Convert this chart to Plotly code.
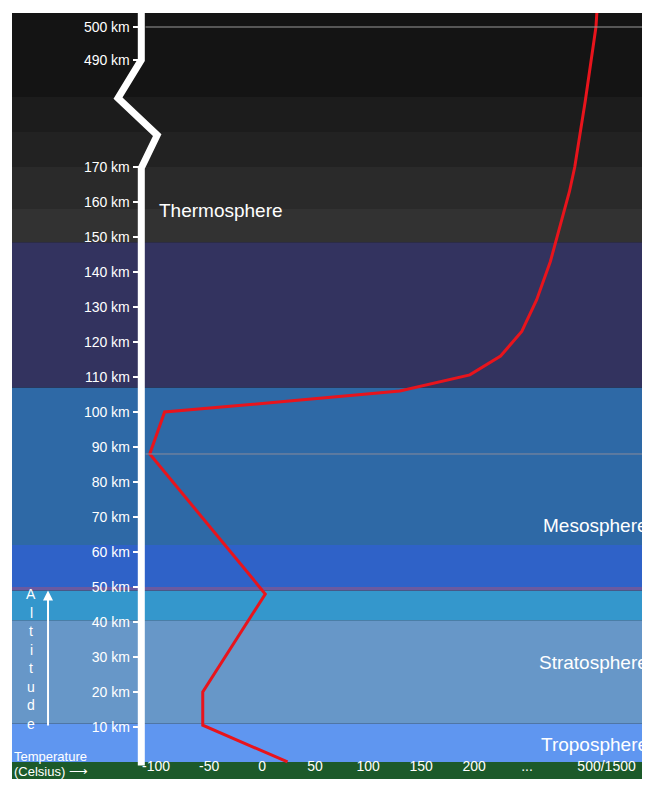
import plotly.graph_objects as go

# temperature profile (deg C, x in plotted units; 325 = "500/1500" column) vs altitude in km
altitude_km = [0, 10.5, 20, 48, 88, 100, 103.4, 106, 110.6, 116, 123, 132, 143, 163, 170, 369, 500, 505]
temperature = [24, -56, -56, 3, -106, -92, 36, 130, 196, 225, 245, 259, 272, 290, 295, 305, 315, 316]

alt_ticks = [10, 20, 30, 40, 50, 60, 70, 80, 90, 100, 110, 120, 130, 140, 150, 160, 170, 490, 500]
temp_ticks = [-100, -50, 0, 50, 100, 150, 200, 250, 325]
temp_labels = ["-100", "-50", "0", "50", "100", "150", "200", "...", "500/1500"]

# bands: (bottom km, top km, colour)
bands = [(-8, 0, "#1c5a2a"), (0, 11, "#5f96f0"), (11, 40.5, "#6797c8"), (40.5, 49, "#3497cc"),
         (49, 50, "#6a5aa0"), (50, 62, "#2f62c8"), (62, 107, "#2e69a6"), (107, 148.5, "#33335f"),
         (148.5, 158, "#323232"), (158, 170, "#2a2a2a"), (170, 180, "#222222"), (180, 190, "#1c1c1c"),
         (190, 230, "#141414")]


def disp(a):
    # broken axis: squeeze 170..490 km
    if a <= 170:
        return a
    if a <= 490:
        return 170 + (a - 170) * 30.6 / 320
    return 200.6 + (a - 490) * 0.94


fig = go.Figure()
for b0, b1, c in bands:
    fig.add_shape(type="rect", xref="paper", yref="y", x0=0, x1=1, y0=b0, y1=b1,
                  fillcolor=c, line_width=0, layer="below")
for a, c in [(88, "#8a8a9a"), (500, "#9a9a9a")]:
    fig.add_shape(type="line", xref="x", yref="y", x0=-110, x1=370, y0=disp(a), y1=disp(a),
                  line=dict(color=c, width=1))

# white altitude bar with break
fig.add_trace(go.Scatter(x=[-114, -114, -99, -136, -114, -114],
                         y=[-1, 169.7, 179.1, 189.7, 200.6, 220],
                         mode="lines", line=dict(color="white", width=7), hoverinfo="skip"))
fig.add_trace(go.Scatter(x=temperature, y=[disp(a) for a in altitude_km], mode="lines",
                         line=dict(color="#e8141c", width=3), hoverinfo="skip"))

font = dict(family="Liberation Sans, Arial", color="white")
for txt, x, y, anc in [("Thermosphere", -99, 157.5, "left"), ("Mesosphere", 366, 67.5, "right"),
                       ("Stratosphere", 366, 28.5, "right"), ("Troposphere", 366, 5, "right")]:
    fig.add_annotation(x=x, y=y, text=txt, showarrow=False, xanchor=anc,
                       font=dict(size=19, **font))
for i, ch in enumerate("Altitude"):
    fig.add_annotation(x=-218, y=48 - i * 5.3, text=ch, showarrow=False, font=dict(size=14, **font))
fig.add_annotation(x=-202, y=49, ax=-202, ay=10, xref="x", yref="y", axref="x", ayref="y",
                   text="", showarrow=True, arrowhead=2, arrowwidth=2, arrowcolor="white")
fig.add_annotation(x=-236, y=1.6, text="Temperature", showarrow=False, xanchor="left",
                   font=dict(size=13, **font))
fig.add_annotation(x=-236, y=-2.6, text="(Celsius) ⟶", showarrow=False, xanchor="left",
                   font=dict(size=13, **font))

fig.update_layout(
    width=642, height=771, margin=dict(l=4, r=0, t=5, b=0),
    paper_bgcolor="white", plot_bgcolor="#141414", showlegend=False,
    xaxis=dict(range=[-236, 366], tickvals=temp_ticks, ticktext=temp_labels,
               ticklabelposition="inside", ticklabelstandoff=2, showgrid=False, zeroline=False,
               tickfont=dict(size=14, **font), ticks=""),
    yaxis=dict(range=[-4.86, 214], tickvals=[disp(a) for a in alt_ticks],
               ticktext=[f"{a} km" for a in alt_ticks], anchor="free", position=0.2,
               showgrid=False, zeroline=False, ticks="outside", ticklen=7, tickwidth=2,
               tickcolor="white", tickfont=dict(size=14, **font)),
)
fig.write_html("out.html")
